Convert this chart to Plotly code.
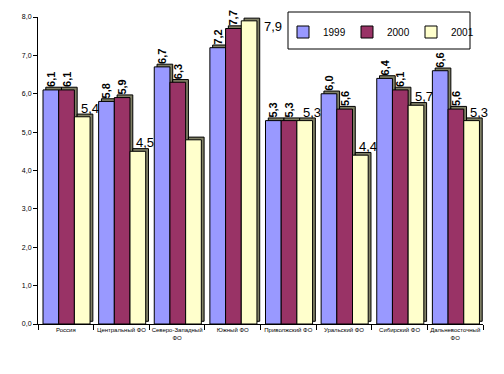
import plotly.graph_objects as go

categories = ["Россия", "Центральный ФО", "Северо-Западный<br>ФО", "Южный ФО",
              "Приволжский ФО", "Уральский ФО", "Сибирский ФО", "Дальневосточный<br>ФО"]
years = ["1999", "2000", "2001"]
v1999 = [6.1, 5.8, 6.7, 7.2, 5.3, 6.0, 6.4, 6.6]
v2000 = [6.1, 5.9, 6.3, 7.7, 5.3, 5.6, 6.1, 5.6]
v2001 = [5.4, 4.5, 4.8, 7.9, 5.3, 4.4, 5.7, 5.3]
labels2001 = ["5,4", "4,5", "", "7,9", "5,3", "4,4", "5,7", "5,3"]
y_ticks = [0, 1, 2, 3, 4, 5, 6, 7, 8]
y_max = 8

colors = ["#9999FF", "#993366", "#FFFFCC"]
series = [v1999, v2000, v2001]
offsets = [-0.41, -0.128, 0.154]
bw = 0.282

fig = go.Figure()

# 3D side/shadow faces
for vals, off in zip(series, offsets):
    fig.add_trace(go.Bar(
        x=categories, y=vals, base=0.07, offset=off + 0.05, width=bw,
        marker=dict(color="#808066", line=dict(color="black", width=1)),
        showlegend=False, hoverinfo="skip"))

for i, (vals, off) in enumerate(zip(series, offsets)):
    if i < 2:
        txt = [f"{v:.1f}".replace(".", ",") for v in vals]
        tfont = dict(family="Liberation Sans, Arial", size=11, color="black", weight="bold")
        fig.add_trace(go.Bar(
            x=categories, y=vals, offset=off, width=bw, name=years[i],
            marker=dict(color=colors[i], line=dict(color="black", width=1)),
            text=txt, textposition="outside", textangle=-90, textfont=tfont,
            cliponaxis=False, constraintext="none"))
    else:
        fig.add_trace(go.Bar(
            x=categories, y=vals, offset=off, width=bw, name=years[i],
            marker=dict(color=colors[i], line=dict(color="black", width=1)),
            cliponaxis=False))

# 2001 labels: above the right edge of the bar, or beside it if near the top
for cat, v, lab in zip(categories, v2001, labels2001):
    if not lab:
        continue
    if v > y_max - 0.3:
        fig.add_annotation(x=cat, y=v, text=lab, showarrow=False, xanchor="left",
                           yanchor="middle", xshift=29, yshift=-6,
                           font=dict(family="Liberation Sans, Arial", size=13, color="black"))
    else:
        fig.add_annotation(x=cat, y=v, text=lab, showarrow=False, xanchor="center",
                           yanchor="bottom", xshift=24, yshift=-1,
                           font=dict(family="Liberation Sans, Arial", size=13, color="black"))

fig.update_layout(
    width=496, height=366,
    margin=dict(l=30, r=21, t=9, b=50, autoexpand=False),
    barmode="overlay",
    plot_bgcolor="white", paper_bgcolor="white",
    separators=", ",
    font=dict(family="Liberation Sans, Arial", size=7, color="black"),
    legend=dict(orientation="h", x=(283 - 38) / 445, y=1 - 15 / 307,
                xanchor="left", yanchor="middle",
                font=dict(size=10, family="Liberation Sans, Arial"),
                entrywidth=19, entrywidthmode="pixels",
                bgcolor="rgba(0,0,0,0)", itemwidth=30, traceorder="normal"),
    shapes=[dict(type="rect", xref="paper", yref="paper",
                 x0=(288 - 38) / 445, x1=(470 - 38) / 445,
                 y0=1 - (49 - 17) / 307, y1=1 + (17 - 12) / 307,
                 line=dict(color="black", width=1), fillcolor="white", layer="above")],
)
fig.update_xaxes(showline=True, linecolor="black", linewidth=1,
                 ticks="outside", tickson="boundaries", ticklen=5, tickcolor="black",
                 tickfont=dict(size=6), tickangle=0, automargin=False, range=[-0.5, 7.5])
fig.update_yaxes(range=[0, y_max], tickvals=y_ticks, tickformat=".1f",
                 showline=True, linecolor="black", linewidth=1,
                 ticks="outside", ticklen=4, tickcolor="black", automargin=False,
                 showgrid=False, zeroline=False, tickfont=dict(size=7))

fig.write_html("out.html")
